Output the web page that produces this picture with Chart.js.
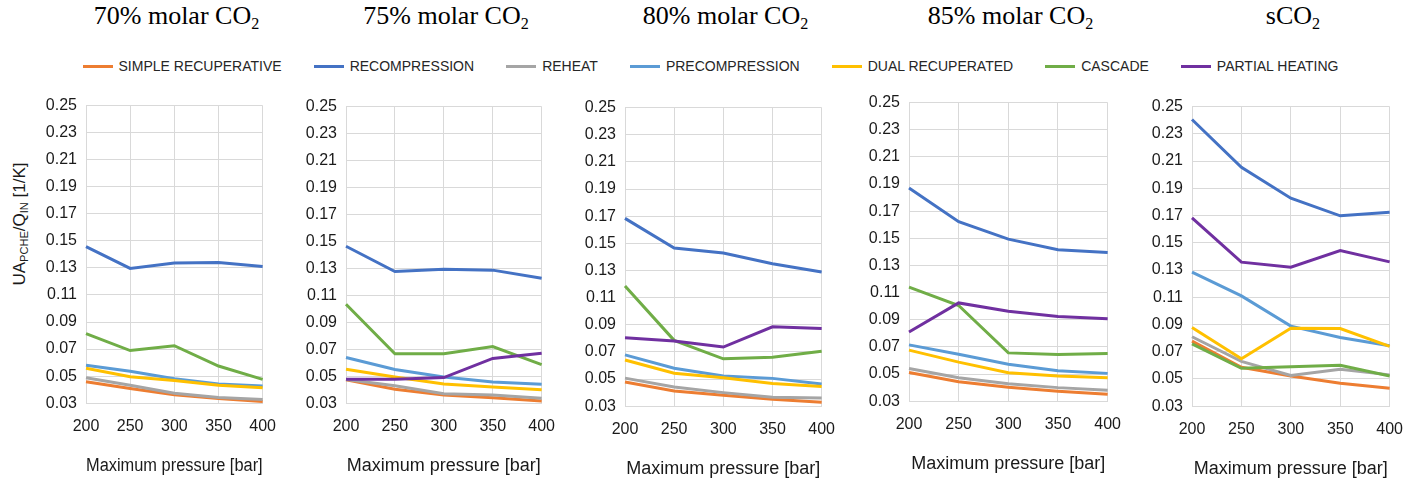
<!DOCTYPE html>
<html>
<head>
<meta charset="utf-8">
<script src="https://cdn.jsdelivr.net/npm/chart.js@4/dist/chart.umd.min.js"></script>
<style>
  body { margin: 0; width: 1421px; height: 479px; background: #fff; position: relative; overflow: hidden;
         font-family: 'Liberation Sans', Arial, sans-serif; color: #1a1a1a; }
  .ptitle { position: absolute; top: 1px; font-family: 'Liberation Serif', 'Times New Roman', serif;
            font-size: 26px; color: #000; transform: translateX(-50%); white-space: nowrap; }
  .ptitle sub { font-size: 0.62em; vertical-align: -0.3em; }
  #legend { position: absolute; top: 58px; left: 0; width: 1421px; display: flex; justify-content: center;
            gap: 32px; font-size: 14px; color: #262626; }
  .item { display: flex; align-items: center; white-space: nowrap; }
  .swatch { width: 30px; height: 3px; margin-right: 6px; }
  canvas { position: absolute; }
  #ytitle { position: absolute; left: 20px; top: 224px; font-size: 17px; white-space: nowrap;
            transform: translate(-50%, -50%) rotate(-90deg); }
  #ytitle sub { font-size: 0.65em; vertical-align: -0.25em; }
</style>
</head>
<body>
<div id="legend"></div>
<div id="ytitle">UA<sub>PCHE</sub>/Q<sub>IN</sub> [1/K]</div>
<script>
// x categories (maximum pressure, bar)
const pressures = ['200', '250', '300', '350', '400'];

// panel titles: text before the subscript, subscript
const panelTitles = [
    ['70% molar CO', '2'],
    ['75% molar CO', '2'],
    ['80% molar CO', '2'],
    ['85% molar CO', '2'],
    ['sCO', '2']
];

const seriesNames = ['SIMPLE RECUPERATIVE', 'RECOMPRESSION', 'REHEAT', 'PRECOMPRESSION',
                     'DUAL RECUPERATED', 'CASCADE', 'PARTIAL HEATING'];
const seriesColors = ['#ED7D31', '#4472C4', '#A5A5A5', '#5B9BD5', '#FFC000', '#70AD47', '#7030A0'];

// one row per panel (70%, 75%, 80%, 85%, sCO2), UA/Q_in in 1/K
const simpleRecuperative = [
    [0.0459, 0.0408, 0.0362, 0.0335, 0.0313],
    [0.0473, 0.0404, 0.0360, 0.0341, 0.0317],
    [0.0478, 0.0412, 0.0380, 0.0352, 0.0330],
    [0.0512, 0.0444, 0.0402, 0.0373, 0.0351],
    [0.0778, 0.0586, 0.0522, 0.0468, 0.0431]
];
const recompression = [
    [0.1458, 0.1296, 0.1337, 0.1340, 0.1310],
    [0.1464, 0.1277, 0.1294, 0.1287, 0.1227],
    [0.1684, 0.1465, 0.1428, 0.1350, 0.1288],
    [0.1870, 0.1622, 0.1494, 0.1416, 0.1396],
    [0.2405, 0.2054, 0.1827, 0.1698, 0.1725]
];
const reheat = [
    [0.0488, 0.0432, 0.0374, 0.0342, 0.0327],
    [0.0475, 0.0429, 0.0370, 0.0360, 0.0337],
    [0.0507, 0.0441, 0.0400, 0.0366, 0.0361],
    [0.0541, 0.0473, 0.0429, 0.0400, 0.0380],
    [0.0810, 0.0629, 0.0525, 0.0571, 0.0530]
];
const precompression = [
    [0.0580, 0.0536, 0.0480, 0.0442, 0.0427],
    [0.0639, 0.0550, 0.0494, 0.0457, 0.0440],
    [0.0678, 0.0580, 0.0522, 0.0505, 0.0463],
    [0.0715, 0.0646, 0.0573, 0.0524, 0.0505],
    [0.1285, 0.1110, 0.0888, 0.0805, 0.0744]
];
const dualRecuperated = [
    [0.0558, 0.0495, 0.0468, 0.0432, 0.0415],
    [0.0552, 0.0494, 0.0442, 0.0420, 0.0400],
    [0.0640, 0.0543, 0.0510, 0.0468, 0.0446],
    [0.0676, 0.0588, 0.0510, 0.0485, 0.0473],
    [0.0878, 0.0648, 0.0873, 0.0870, 0.0739]
];
const cascade = [
    [0.0815, 0.0689, 0.0725, 0.0575, 0.0476],
    [0.1034, 0.0667, 0.0667, 0.0720, 0.0586],
    [0.1186, 0.0785, 0.0649, 0.0660, 0.0705],
    [0.1141, 0.1005, 0.0656, 0.0644, 0.0651],
    [0.0758, 0.0578, 0.0590, 0.0600, 0.0522]
];
const partialHeating = [
    [null, null, null, null, null],
    [0.0478, 0.0478, 0.0490, 0.0632, 0.0670],
    [0.0804, 0.0780, 0.0736, 0.0885, 0.0873],
    [0.0810, 0.1024, 0.0963, 0.0924, 0.0907],
    [0.1683, 0.1358, 0.1320, 0.1443, 0.1360]
];

const yMin = 0.03, yMax = 0.25, yStep = 0.02;
const xTitle = 'Maximum pressure [bar]';

const seriesValues = [simpleRecuperative, recompression, reheat, precompression,
                      dualRecuperated, cascade, partialHeating];

// plot area of each panel on the page: left, top, right, bottom
const plotBoxes = [
    [86, 106, 263, 404],
    [346, 107, 542, 404],
    [625, 108, 822, 407],
    [909, 103, 1108, 402],
    [1192, 107, 1390, 407]
];

const gridColor = '#d9d9d9';
const textColor = '#1a1a1a';

// legend
const legend = document.getElementById('legend');
seriesNames.forEach((name, i) => {
    const item = document.createElement('div');
    item.className = 'item';
    const sw = document.createElement('span');
    sw.className = 'swatch';
    sw.style.background = seriesColors[i];
    item.appendChild(sw);
    item.appendChild(document.createTextNode(name));
    legend.appendChild(item);
});

function makePanel(p) {
    const box = plotBoxes[p];
    const w = box[2] - box[0];
    const h = box[3] - box[1];

    const t = document.createElement('div');
    t.className = 'ptitle';
    t.style.left = ((box[0] + box[2]) / 2 + 2) + 'px';
    t.innerHTML = panelTitles[p][0] + '<sub>' + panelTitles[p][1] + '</sub>';
    document.body.appendChild(t);

    const canvas = document.createElement('canvas');
    canvas.width = w + 80;
    canvas.height = h + 100;
    canvas.style.width = canvas.width + 'px';
    canvas.style.height = canvas.height + 'px';
    document.body.appendChild(canvas);

    const datasets = seriesNames.map((name, s) => ({
        label: name,
        data: seriesValues[s][p],
        borderColor: seriesColors[s],
        backgroundColor: seriesColors[s],
        borderWidth: 3,
        pointRadius: 0,
        tension: 0,
        fill: false,
        order: seriesNames.length - s
    }));

    const chart = new Chart(canvas.getContext('2d'), {
        type: 'line',
        data: { labels: pressures, datasets: datasets },
        options: {
            responsive: false,
            maintainAspectRatio: false,
            animation: false,
            layout: { padding: { top: 12, right: 16, left: 0, bottom: 0 } },
            plugins: { legend: { display: false }, tooltip: { enabled: false } },
            scales: {
                x: {
                    offset: false,
                    grid: { color: gridColor, drawTicks: false, offset: false },
                    border: { color: gridColor },
                    ticks: { color: textColor, padding: 14, maxRotation: 0,
                             font: { family: 'Liberation Sans', size: 16 } },
                    title: { display: true, text: xTitle, color: textColor,
                             padding: { top: 5, bottom: 0 },
                             font: { family: 'Liberation Sans', size: 18 } }
                },
                y: {
                    min: yMin,
                    max: yMax,
                    grid: { color: gridColor, drawTicks: false },
                    border: { color: gridColor },
                    ticks: { stepSize: yStep, color: textColor, padding: 9,
                             font: { family: 'Liberation Sans', size: 16 },
                             callback: v => v.toFixed(2) },
                    afterFit: s => { s.width = 52; }
                }
            }
        }
    });

    // fit the chart area to the plot box
    for (let k = 0; k < 3; k++) {
        const a = chart.chartArea;
        const dw = Math.round(w - (a.right - a.left));
        const dh = Math.round(h - (a.bottom - a.top));
        if (dw === 0 && dh === 0) break;
        chart.resize(chart.width + dw, chart.height + dh);
    }
    const a = chart.chartArea;
    canvas.style.left = (box[0] - a.left) + 'px';
    canvas.style.top = (box[1] - a.top) + 'px';
    return chart;
}

window.onload = function () {
    for (let p = 0; p < plotBoxes.length; p++) {
        makePanel(p);
    }
};
</script>
</body>
</html>
